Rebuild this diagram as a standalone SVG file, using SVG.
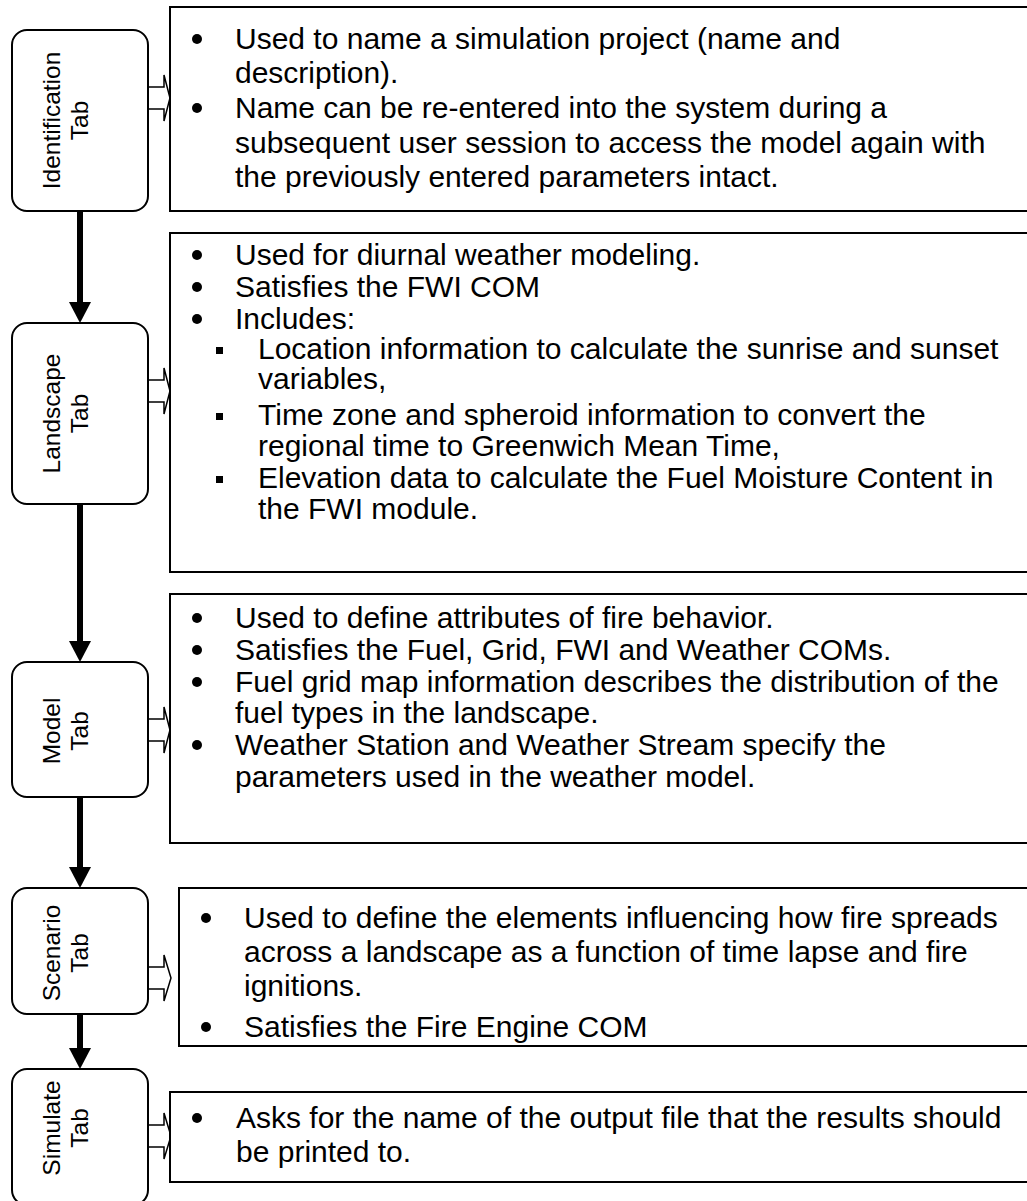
<svg xmlns="http://www.w3.org/2000/svg" width="1027" height="1201" viewBox="0 0 1027 1201">
<style>
.tab{fill:#fff;stroke:#000;stroke-width:2}
.box{fill:#fff;stroke:#000;stroke-width:2}
.lbl{font-family:"Liberation Sans",Arial,sans-serif;font-size:24.5px;fill:#000;text-anchor:middle}
.t{font-family:"Liberation Sans",Arial,sans-serif;font-size:30px;fill:#000}
.dot{fill:#000}
.blk{fill:#fff;stroke:#000;stroke-width:1.5;stroke-linejoin:miter}
.conn{stroke:#000;stroke-width:6;fill:none}
.head{fill:#000}
</style>
<rect width="1027" height="1201" fill="#fff"/>

<g id="connectors">
  <line class="conn" x1="80" y1="211" x2="80" y2="304"/>
  <polygon class="head" points="69,302 91,302 80,323"/>
  <line class="conn" x1="80" y1="504" x2="80" y2="643"/>
  <polygon class="head" points="69,641 91,641 80,662"/>
  <line class="conn" x1="80" y1="797" x2="80" y2="869"/>
  <polygon class="head" points="69,867 91,867 80,888"/>
  <line class="conn" x1="80" y1="1014" x2="80" y2="1050"/>
  <polygon class="head" points="69,1048 91,1048 80,1069"/>
  <polygon class="blk" points="148,87 164,87 164,75 170,98 164,121 164,109 148,109"/>
  <polygon class="blk" points="148,380 164,380 164,368 170,391 164,414 164,402 148,402"/>
  <polygon class="blk" points="148,719 164,719 164,707 170,730 164,753 164,741 148,741"/>
  <polygon class="blk" points="148,967 164,967 164,955 171,978 164,1001 164,989 148,989"/>
  <polygon class="blk" points="148,1125 164,1125 164,1113 171,1136 164,1159 164,1147 148,1147"/>
</g>

<g id="tab-identification">
  <rect class="tab" x="12" y="30" width="136" height="181" rx="15"/>
  <g transform="translate(80,120.5) rotate(-90)">
    <text class="lbl" x="0" y="-20">Identification</text>
    <text class="lbl" x="0" y="8">Tab</text>
  </g>
</g>
<g id="tab-landscape">
  <rect class="tab" x="12" y="323" width="136" height="181" rx="15"/>
  <g transform="translate(80,413.5) rotate(-90)">
    <text class="lbl" x="0" y="-20">Landscape</text>
    <text class="lbl" x="0" y="8">Tab</text>
  </g>
</g>
<g id="tab-model">
  <rect class="tab" x="12" y="662" width="136" height="135" rx="15"/>
  <g transform="translate(80,731) rotate(-90)">
    <text class="lbl" x="0" y="-20">Model</text>
    <text class="lbl" x="0" y="8">Tab</text>
  </g>
</g>
<g id="tab-scenario">
  <rect class="tab" x="12" y="888" width="136" height="126" rx="15"/>
  <g transform="translate(80,953) rotate(-90)">
    <text class="lbl" x="0" y="-20">Scenario</text>
    <text class="lbl" x="0" y="8">Tab</text>
  </g>
</g>
<g id="tab-simulate">
  <rect class="tab" x="12" y="1069" width="136" height="136" rx="15"/>
  <g transform="translate(80,1128) rotate(-90)">
    <text class="lbl" x="0" y="-20">Simulate</text>
    <text class="lbl" x="0" y="8">Tab</text>
  </g>
</g>

<g id="desc-identification">
  <rect class="box" x="170" y="7" width="870" height="204"/>
  <circle class="dot" cx="197" cy="39" r="5"/>
  <text class="t" x="235" y="49">Used to name a simulation project (name and</text>
  <text class="t" x="235" y="83">description).</text>
  <circle class="dot" cx="197" cy="108" r="5"/>
  <text class="t" x="235" y="118">Name can be re-entered into the system during a</text>
  <text class="t" x="235" y="153">subsequent user session to access the model again with</text>
  <text class="t" x="235" y="187">the previously entered parameters intact.</text>
</g>

<g id="desc-landscape">
  <rect class="box" x="170" y="233" width="870" height="339"/>
  <circle class="dot" cx="197" cy="255" r="5"/>
  <text class="t" x="235" y="265">Used for diurnal weather modeling.</text>
  <circle class="dot" cx="197" cy="287" r="5"/>
  <text class="t" x="235" y="297">Satisfies the FWI COM</text>
  <circle class="dot" cx="197" cy="319" r="5"/>
  <text class="t" x="235" y="329">Includes:</text>
  <rect class="dot" x="216" y="347" width="7" height="7"/>
  <text class="t" x="258" y="359">Location information to calculate the sunrise and sunset</text>
  <text class="t" x="258" y="389">variables,</text>
  <rect class="dot" x="216" y="413" width="7" height="7"/>
  <text class="t" x="258" y="425">Time zone and spheroid information to convert the</text>
  <text class="t" x="258" y="456">regional time to Greenwich Mean Time,</text>
  <rect class="dot" x="216" y="476" width="7" height="7"/>
  <text class="t" x="258" y="488">Elevation data to calculate the Fuel Moisture Content in</text>
  <text class="t" x="258" y="519">the FWI module.</text>
</g>

<g id="desc-model">
  <rect class="box" x="170" y="594" width="870" height="249"/>
  <circle class="dot" cx="197" cy="618" r="5"/>
  <text class="t" x="235" y="628">Used to define attributes of fire behavior.</text>
  <circle class="dot" cx="197" cy="650" r="5"/>
  <text class="t" x="235" y="660">Satisfies the Fuel, Grid, FWI and Weather COMs.</text>
  <circle class="dot" cx="197" cy="682" r="5"/>
  <text class="t" x="235" y="692">Fuel grid map information describes the distribution of the</text>
  <text class="t" x="235" y="723">fuel types in the landscape.</text>
  <circle class="dot" cx="197" cy="745" r="5"/>
  <text class="t" x="235" y="755">Weather Station and Weather Stream specify the</text>
  <text class="t" x="235" y="787">parameters used in the weather model.</text>
</g>

<g id="desc-scenario">
  <rect class="box" x="179" y="888" width="870" height="158"/>
  <circle class="dot" cx="206" cy="918" r="5"/>
  <text class="t" x="244" y="928">Used to define the elements influencing how fire spreads</text>
  <text class="t" x="244" y="962">across a landscape as a function of time lapse and fire</text>
  <text class="t" x="244" y="996">ignitions.</text>
  <circle class="dot" cx="206" cy="1027" r="5"/>
  <text class="t" x="244" y="1037">Satisfies the Fire Engine COM</text>
</g>

<g id="desc-simulate">
  <rect class="box" x="170" y="1092" width="870" height="90"/>
  <circle class="dot" cx="197" cy="1118" r="5"/>
  <text class="t" x="236" y="1128">Asks for the name of the output file that the results should</text>
  <text class="t" x="236" y="1162">be printed to.</text>
</g>
</svg>
